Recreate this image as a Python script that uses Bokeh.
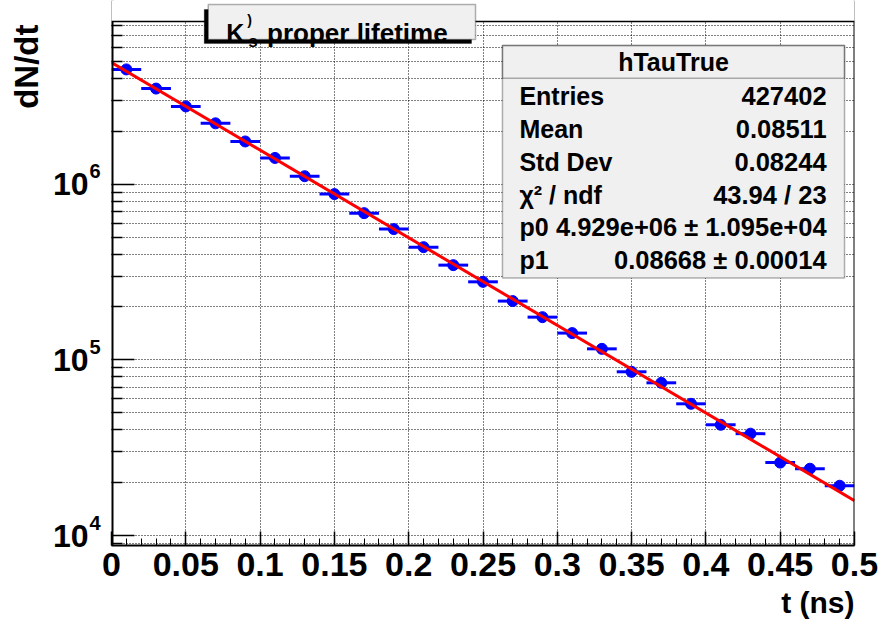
import math
from bokeh.plotting import figure
from bokeh.models import (Range1d, SingleIntervalTicker, FixedTicker, Label,
                          BoxAnnotation, CustomJSTickFormatter, Span, Title,
                          LogAxis)
from bokeh.embed import file_html
from bokeh.resources import INLINE

# ---------------- data ----------------
t_centers = [0.01, 0.03, 0.05, 0.07, 0.09, 0.11, 0.13, 0.15, 0.17, 0.19,
             0.21, 0.23, 0.25, 0.27, 0.29, 0.31, 0.33, 0.35, 0.37, 0.39,
             0.41, 0.43, 0.45, 0.47, 0.49]
dndt = [4.50e6, 3.50e6, 2.77e6, 2.22e6, 1.75e6, 1.41e6, 1.11e6, 8.78e5,
        6.84e5, 5.55e5, 4.38e5, 3.46e5, 2.78e5, 2.16e5, 1.75e5, 1.42e5,
        1.155e5, 8.55e4, 7.40e4, 5.62e4, 4.27e4, 3.80e4, 2.60e4, 2.40e4,
        1.92e4]
bin_half_width = 0.01
fit_t = [0.0, 0.5]
fit_y = [4.929e6, 1.58e4]

y_major = [1e4, 1e5, 1e6]
y_minor = [9e3, 2e4, 3e4, 4e4, 5e4, 6e4, 7e4, 8e4, 9e4,
           2e5, 3e5, 4e5, 5e5, 6e5, 7e5, 8e5, 9e5,
           2e6, 3e6, 4e6, 5e6, 6e6, 7e6, 8e6]
y_tick_base = "10"
y_tick_exps = ["4", "5", "6"]

stats_title = "hTauTrue"
stats_names = ["Entries", "Mean", "Std Dev", "\u03c7\u00b2 / ndf", "p0", "p1"]
stats_values = ["427402", "0.08511", "0.08244", "43.94 / 23",
                "4.929e+06 \u00b1 1.095e+04", "0.08668 \u00b1 0.00014"]

# ---------------- layout ----------------
W, H = 882, 623
FL, FR, FB = 109, 854, 546      # frame edges (frame extends to canvas top)
AX_TOP = 21                      # visible top edge of the axes box
PX_PER_DEC = 176.0
PY_1E6 = 184.0
YMIN = 10 ** (6 - (FB - PY_1E6) / PX_PER_DEC)
YMAX = 10 ** (6 + (PY_1E6 - 0) / PX_PER_DEC)
XMIN, XMAX = 0.0, 0.5
EXP_RAISE_PX = 13.0


def dx(px):
    return XMIN + (px - FL) / (FR - FL) * (XMAX - XMIN)


def dy(py):
    return 10 ** (6 + (PY_1E6 - py) / PX_PER_DEC)


FONT = "Liberation Sans"

p = figure(width=W, height=H, x_range=Range1d(XMIN, XMAX),
           y_range=Range1d(YMIN, YMAX), y_axis_type="log",
           output_backend="svg", toolbar_location=None,
           min_border_left=FL, min_border_right=W - FR,
           min_border_top=0, min_border_bottom=H - FB)
p.background_fill_color = "white"
p.border_fill_color = "white"
p.outline_line_color = None

# x axis
xa = p.xaxis[0]
xa.ticker = SingleIntervalTicker(interval=0.05, num_minor_ticks=5)
xa.formatter = CustomJSTickFormatter(
    code="return tick.toFixed(2).replace(/0+$/,'').replace(/\\.$/,'');")
xa.major_tick_in = 14
xa.major_tick_out = 0
xa.minor_tick_in = 7
xa.minor_tick_out = 0
xa.axis_line_width = 2
xa.major_tick_line_width = 1.5
xa.major_label_text_font = FONT
xa.major_label_text_font_style = "bold"
xa.major_label_text_font_size = "34px"
xa.major_label_standoff = 7
xa.major_label_text_color = "black"

# y axis: ticks only (adjacent to the frame)
ya = p.yaxis[0]
ya.ticker = FixedTicker(ticks=y_major, minor_ticks=y_minor)
ya.formatter = CustomJSTickFormatter(code="return '';")
ya.major_tick_in = 23
ya.major_tick_out = 0
ya.minor_tick_in = 11
ya.minor_tick_out = 0
ya.axis_line_color = None
ya.major_tick_line_width = 1.5
ya.minor_tick_line_width = 1.5
ya.major_label_standoff = 0
ya.major_label_text_font_size = "10px"

# exponent labels (raised above each decade)
raise_fac = 10 ** (EXP_RAISE_PX / PX_PER_DEC)
exp_axis = LogAxis(
    ticker=FixedTicker(ticks=[v * raise_fac for v in y_major], minor_ticks=[]),
    formatter=CustomJSTickFormatter(
        args=dict(exps=y_tick_exps),
        code="return exps[Math.round(Math.log10(tick)) - 4];"),
    axis_line_color=None, major_tick_line_color=None, minor_tick_line_color=None,
    major_tick_in=0, major_tick_out=0, minor_tick_in=0, minor_tick_out=0,
    major_label_standoff=11, major_label_text_font=FONT,
    major_label_text_font_style="bold", major_label_text_font_size="20px",
    major_label_text_color="black")
p.add_layout(exp_axis, "left")

# base "10" labels
base_axis = LogAxis(
    ticker=FixedTicker(ticks=y_major, minor_ticks=[]),
    formatter=CustomJSTickFormatter(args=dict(base=y_tick_base),
                                    code="return base;"),
    axis_line_color=None, major_tick_line_color=None, minor_tick_line_color=None,
    major_tick_in=0, major_tick_out=0, minor_tick_in=0, minor_tick_out=0,
    major_label_standoff=-2, major_label_text_font=FONT,
    major_label_text_font_style="bold", major_label_text_font_size="32px",
    major_label_text_color="black")
p.add_layout(base_axis, "left")

# axis titles
p.add_layout(Title(text="dN/dt", align="right", text_font=FONT,
                   text_font_style="bold", text_font_size="33px",
                   text_color="black", offset=24), "left")
p.add_layout(Title(text="t (ns)", align="right", text_font=FONT,
                   text_font_style="bold", text_font_size="30px",
                   text_color="black"), "below")

# grid
p.xgrid.ticker = SingleIntervalTicker(interval=0.05)
p.xgrid.grid_line_color = "black"
p.xgrid.grid_line_dash = "1 2"
p.xgrid.grid_line_width = 1
p.ygrid.grid_line_color = "black"
p.ygrid.grid_line_dash = "1 2"
p.ygrid.minor_grid_line_color = "black"
p.ygrid.minor_grid_line_dash = "1 2"

# data
x0 = [t - bin_half_width for t in t_centers]
x1 = [t + bin_half_width for t in t_centers]
p.segment(x0=x0, y0=dndt, x1=x1, y1=dndt, line_color="#0000ff", line_width=3)
p.scatter(x=t_centers, y=dndt, size=11, marker="circle",
          fill_color="#0000ff", line_color="#0000ff")
p.line(x=fit_t, y=fit_y, line_color="#ff0000", line_width=3)

# axes box edges (left, right, top) and mask above the box
p.add_layout(Span(location=XMIN, dimension="height", line_color="black",
                  line_width=4))
p.add_layout(Span(location=XMAX, dimension="height", line_color="black",
                  line_width=2))
p.add_layout(BoxAnnotation(left=dx(0), right=dx(W), top=dy(-5), bottom=dy(AX_TOP),
                           fill_color="white", fill_alpha=1, line_color=None))
p.add_layout(Span(location=dy(AX_TOP), dimension="width", line_color="black",
                  line_width=1.5))


def lab(px, py, text, size, align="left", baseline="middle"):
    p.add_layout(Label(x=dx(px), y=dy(py), text=text, text_align=align,
                       text_baseline=baseline, text_font=FONT,
                       text_font_style="bold", text_font_size=size,
                       text_color="black"))


# title box with shadow
p.add_layout(BoxAnnotation(left=dx(202), right=dx(470), top=dy(9), bottom=dy(43),
                           fill_color="black", fill_alpha=1, line_color="black"))
p.add_layout(BoxAnnotation(left=dx(206), right=dx(474), top=dy(4), bottom=dy(39),
                           fill_color="#f0f0f0", fill_alpha=1, line_color="black",
                           line_width=1.5))
lab(224, 33, "K", "25px", baseline="alphabetic")
lab(245, 20, ")", "14px", baseline="alphabetic")
lab(246, 41, "s", "17px", baseline="alphabetic")
lab(265, 33, "proper lifetime", "26px", baseline="alphabetic")

# stats box
p.add_layout(BoxAnnotation(left=dx(501), right=dx(844), top=dy(45), bottom=dy(278),
                           fill_color="#f0f0f0", fill_alpha=1, line_color="black",
                           line_width=1.5))
p.add_layout(BoxAnnotation(left=dx(501), right=dx(844), top=dy(45), bottom=dy(78),
                           fill_alpha=0, line_color="black", line_width=1.5))
lab(672.5, 62, stats_title, "25px", align="center")
row_y = [96, 129, 162, 195, 227, 260]
for name, val, ry in zip(stats_names, stats_values, row_y):
    lab(518, ry, name, "25px")
    lab(826, ry, val, "25.5px", align="right")

open("out.html", "w").write(file_html(p, INLINE))
